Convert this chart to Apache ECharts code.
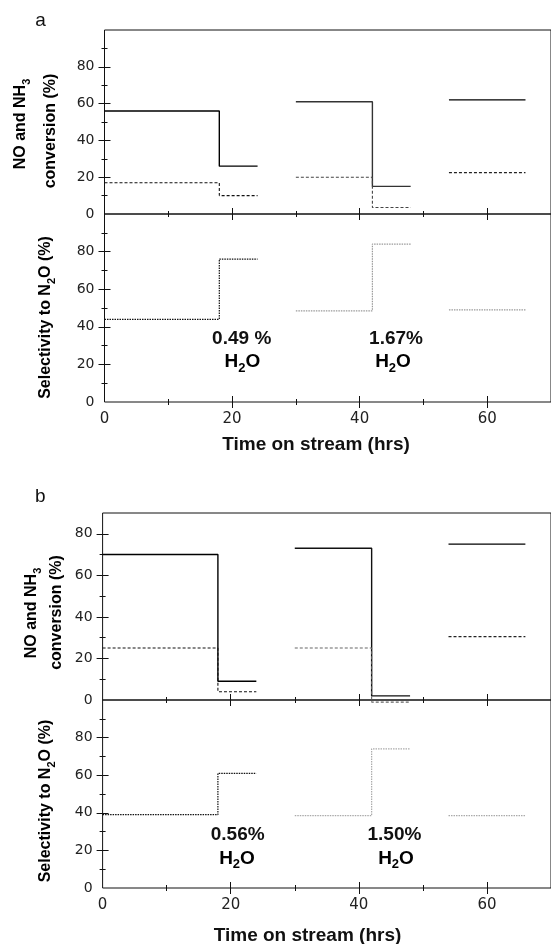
<!DOCTYPE html>
<html><head><meta charset="utf-8">
<script src="https://cdn.jsdelivr.net/npm/echarts@6/dist/echarts.min.js"></script>
<style>html,body{margin:0;padding:0;background:#fff}#c{width:551px;height:944px}</style>
</head><body><div id="c"></div>
<script>
// ---------- data ----------
const segStart  = [0, 30, 54];
const segSwitch = [18, 42, null];
const segEnd    = [24, 48, 66];
const xTickLabels = [0, 20, 40, 60];
const yTickLabels = [0, 20, 40, 60, 80];

// panel a
const aNOdry  = [56, 61, 62];
const aNOwet  = [26, 15, null];
const aNH3dry = [17, 20, 22.5];
const aNH3wet = [10, 3.5, null];
const aSelDry = [44, 48.5, 49];
const aSelWet = [76, 84, null];
const aWater  = ['0.49 %', '1.67%'];

// panel b
const bNOdry  = [70, 73, 75];
const bNOwet  = [9, 2, null];
const bNH3dry = [25, 25, 30.5];
const bNH3wet = [4, -1, null];
const bSelDry = [39, 38.5, 38.5];
const bSelWet = [61, 74, null];
const bWater  = ['0.56%', '1.50%'];

// ---------- layout ----------
const FB = 'Liberation Sans, Arial, sans-serif';
const FN = 'DejaVu Sans, sans-serif';
const grids = [
  {left: 104.5, right: -4.7, top: 30,  height: 184, ymax: 100, labels: false},
  {left: 104.5, right: -4.7, top: 214, height: 188, ymax: 100, labels: true},
  {left: 102.6, right: -5.0, top: 513, height: 187, ymax: 90,  labels: false},
  {left: 102.6, right: -5.0, top: 700, height: 188, ymax: 100, labels: true}
];

function segPts(dry, wet, i) {
  const p = [[segStart[i], dry[i]]];
  if (segSwitch[i] !== null && wet[i] !== null) {
    p.push([segSwitch[i], dry[i]]);
    p.push([segSwitch[i], wet[i]]);
    p.push([segEnd[i], wet[i]]);
  } else {
    p.push([segEnd[i], dry[i]]);
  }
  return p;
}

const xAxes = [], yAxes = [], gridOpts = [], series = [];
grids.forEach((g, gi) => {
  gridOpts.push({left: g.left, right: g.right, top: g.top, height: g.height,
    show: true, borderColor: '#111', borderWidth: 1, backgroundColor: 'transparent'});
  const mk = (pos, major, lab) => ({
    type: 'value', gridIndex: gi, min: 0, max: 70, position: pos,
    axisLine: {show: false}, splitLine: {show: false},
    axisTick: {show: true, inside: true, length: major ? 6 : 3,
      customValues: major ? [20, 40, 60] : [10, 30, 50, 70],
      lineStyle: {color: '#111', width: 1}},
    axisLabel: {show: lab, customValues: xTickLabels, margin: 10,
      fontFamily: FN, fontSize: 15, color: '#222'}
  });
  xAxes.push(mk('bottom', true, g.labels), mk('bottom', false, false),
             mk('top', true, false), mk('top', false, false));
  const minorY = g.ymax > 90 ? [10, 30, 50, 70, 90] : [10, 30, 50, 70];
  const mky = (pos, major, lab) => ({
    type: 'value', gridIndex: gi, min: 0, max: g.ymax, position: pos,
    axisLine: {show: false}, splitLine: {show: false},
    axisTick: {show: true, inside: true, length: major ? 6 : 3,
      customValues: major ? [20, 40, 60, 80] : minorY,
      lineStyle: {color: '#111', width: 1}},
    axisLabel: {show: lab, customValues: yTickLabels, margin: 10,
      fontFamily: FN, fontSize: 14, color: '#222'}
  });
  yAxes.push(mky('left', true, true), mky('left', false, false),
             mky('right', true, false), mky('right', false, false));
});

function addSeries(gi, dry, wet, colors, width, type) {
  for (let i = 0; i < segStart.length; i++) {
    series.push({
      type: 'line', xAxisIndex: gi * 4, yAxisIndex: gi * 4,
      data: segPts(dry, wet, i), symbol: 'none', silent: true, clip: false,
      animation: false,
      lineStyle: {color: colors[i], width: width, type: type}
    });
  }
}
addSeries(0, aNOdry, aNOwet, ['#000', '#333', '#000'], 1.4, 'solid');
addSeries(0, aNH3dry, aNH3wet, ['#111', '#444', '#222'], 1.1, [3, 2]);
addSeries(1, aSelDry, aSelWet, ['#111', '#999', '#999'], 1.2, [1.5, 1]);
addSeries(2, bNOdry, bNOwet, ['#000', '#111', '#000'], 1.4, 'solid');
addSeries(2, bNH3dry, bNH3wet, ['#111', '#666', '#222'], 1.1, [3, 2]);
addSeries(3, bSelDry, bSelWet, ['#111', '#aaa', '#aaa'], 1.2, [1.5, 1]);

// ---------- texts ----------
function rich(size, sub) {
  return {
    m: {fontFamily: FB, fontWeight: 'bold', fontSize: size, lineHeight: size + 7, color: '#111', verticalAlign: 'middle'},
    s: {fontFamily: FB, fontWeight: 'bold', fontSize: sub, lineHeight: sub, color: '#111', verticalAlign: 'bottom'}
  };
}
function rtxt(x, y, str, size, sub, rot) {
  return {type: 'text', x: x, y: y, rotation: rot ? Math.PI / 2 : 0, silent: true,
    style: {text: str, rich: rich(size, sub), align: 'center', verticalAlign: 'middle'}};
}
function ptxt(x, y, str, size, bold) {
  return {type: 'text', x: x, y: y, silent: true,
    style: {text: str, fontFamily: FB, fontWeight: bold ? 'bold' : 'normal', fontSize: size,
      fill: '#111', align: 'center', verticalAlign: 'middle'}};
}
const graphics = [
  ptxt(40.5, 20.5, 'a', 19, false),
  ptxt(40.4, 496.7, 'b', 19, false),
  rtxt(20.5, 124, '{m|NO and NH}{s|3}', 16, 11, true),
  rtxt(51, 131, '{m|conversion (%)}', 16, 11, true),
  rtxt(45.7, 317.5, '{m|Selectivity to N}{s|2}{m|O (%)}', 16, 11, true),
  rtxt(31.6, 613, '{m|NO and NH}{s|3}', 16, 11, true),
  rtxt(57, 612.5, '{m|conversion (%)}', 16, 11, true),
  rtxt(45.5, 801, '{m|Selectivity to N}{s|2}{m|O (%)}', 16, 11, true),
  ptxt(316, 445, 'Time on stream (hrs)', 19, true),
  ptxt(307.5, 936, 'Time on stream (hrs)', 19, true),
  ptxt(241.7, 338.3, aWater[0], 19, true),
  rtxt(242.4, 361.7, '{m|H}{s|2}{m|O}', 19, 13, false),
  ptxt(396, 338.3, aWater[1], 19, true),
  rtxt(393, 361.7, '{m|H}{s|2}{m|O}', 19, 13, false),
  ptxt(237.7, 835, bWater[0], 19, true),
  rtxt(237, 858.3, '{m|H}{s|2}{m|O}', 19, 13, false),
  ptxt(394.4, 835, bWater[1], 19, true),
  rtxt(396, 858.3, '{m|H}{s|2}{m|O}', 19, 13, false)
];

const chart = echarts.init(document.getElementById('c'), null, {renderer: 'canvas'});
chart.setOption({
  animation: false,
  backgroundColor: '#fff',
  grid: gridOpts, xAxis: xAxes, yAxis: yAxes, series: series,
  graphic: graphics
});
</script></body></html>
